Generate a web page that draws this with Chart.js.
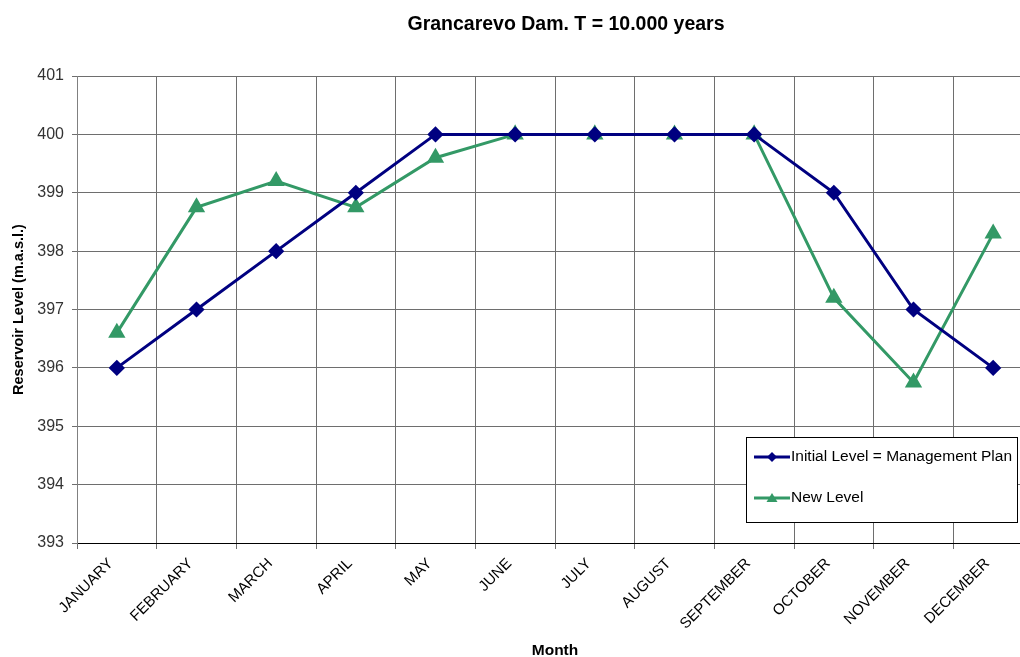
<!DOCTYPE html>
<html>
<head>
<meta charset="utf-8">
<script src="https://cdn.jsdelivr.net/npm/chart.js@4/dist/chart.umd.min.js"></script>
<style>
  html, body { margin: 0; padding: 0; background: #fff; overflow: hidden; width: 1020px; height: 657px; }
  #wrap { position: relative; width: 1050px; height: 660px; }
</style>
</head>
<body>
<div id="wrap"><canvas id="c" width="1050" height="660"></canvas></div>
<script>
const months = ['JANUARY','FEBRUARY','MARCH','APRIL','MAY','JUNE','JULY','AUGUST','SEPTEMBER','OCTOBER','NOVEMBER','DECEMBER'];
const initialLevel = [396, 397, 398, 399, 400, 400, 400, 400, 400, 399, 397, 396];
const newLevel = [396.6, 398.75, 399.2, 398.75, 399.6, 400, 400, 400, 400, 397.2, 395.75, 398.3];
const yTicks = [393, 394, 395, 396, 397, 398, 399, 400, 401];
const chartTitle = 'Grancarevo Dam. T = 10.000 years';

const FONT = 'Arial, "Liberation Sans", sans-serif';

const titlePlugin = {
  id: 'excelTitle',
  afterDraw(chart) {
    const ctx = chart.ctx;
    ctx.save();
    ctx.font = 'bold 19.5px ' + FONT;
    ctx.fillStyle = '#000';
    ctx.textAlign = 'center';
    ctx.textBaseline = 'middle';
    ctx.fillText(chartTitle, 566, 25);
    ctx.restore();
  }
};

const legendPlugin = {
  id: 'boxLegend',
  afterDraw(chart) {
    const ctx = chart.ctx;
    const x0 = 746, y0 = 437, w = 271, h = 85;
    ctx.save();
    ctx.fillStyle = '#fff';
    ctx.fillRect(x0, y0, w, h);
    ctx.strokeStyle = '#000';
    ctx.lineWidth = 1;
    ctx.strokeRect(x0 + 0.5, y0 + 0.5, w, h);
    const rows = [457, 498];
    chart.data.datasets.forEach((ds, i) => {
      const y = rows[i];
      ctx.strokeStyle = ds.borderColor;
      ctx.fillStyle = ds.borderColor;
      ctx.lineWidth = 3;
      ctx.beginPath();
      ctx.moveTo(754, y);
      ctx.lineTo(790, y);
      ctx.stroke();
      const cx = 772;
      ctx.beginPath();
      if (ds.pointStyle === 'rectRot') {
        ctx.moveTo(cx, y - 5); ctx.lineTo(cx + 5, y); ctx.lineTo(cx, y + 5); ctx.lineTo(cx - 5, y);
      } else {
        ctx.moveTo(cx, y - 5); ctx.lineTo(cx + 5.5, y + 4); ctx.lineTo(cx - 5.5, y + 4);
      }
      ctx.closePath();
      ctx.fill();
      ctx.fillStyle = '#000';
      ctx.font = '15.5px ' + FONT;
      ctx.textAlign = 'left';
      ctx.textBaseline = 'middle';
      ctx.fillText(ds.label, 791, y);
    });
    ctx.restore();
  }
};

new Chart(document.getElementById('c'), {
  type: 'line',
  data: {
    labels: months,
    datasets: [
      {
        label: 'Initial Level = Management Plan',
        data: initialLevel,
        borderColor: '#000080',
        backgroundColor: '#000080',
        borderWidth: 3,
        pointStyle: 'rectRot',
        pointRadius: 6,
        pointHoverRadius: 6,
        tension: 0,
        fill: false
      },
      {
        label: 'New Level',
        data: newLevel,
        borderColor: '#339966',
        backgroundColor: '#339966',
        borderWidth: 3,
        pointStyle: 'triangle',
        pointRadius: 7,
        pointHoverRadius: 7,
        tension: 0,
        fill: false
      }
    ]
  },
  options: {
    responsive: false,
    animation: false,
    events: [],
    layout: { padding: { top: 76, right: 17, left: 0, bottom: 0 } },
    plugins: {
      legend: { display: false },
      title: { display: false },
      tooltip: { enabled: false }
    },
    scales: {
      x: {
        type: 'category',
        offset: true,
        grid: { offset: true, color: '#6e6e6e', lineWidth: 1, tickLength: 6, drawTicks: true },
        border: { color: '#000', width: 1 },
        ticks: {
          maxRotation: 45, minRotation: 45, autoSkip: false,
          color: '#000', padding: 0,
          font: { family: FONT, size: 15 },
          callback(value) { return this.getLabelForValue(value) + '  '; }
        },
        title: {
          display: true, text: 'Month', color: '#000',
          font: { family: FONT, size: 15.5, weight: 'bold' },
          padding: { top: 0, bottom: 0 }
        },
        afterFit(scale) { scale.height = 117; }
      },
      y: {
        min: 393, max: 401,
        afterBuildTicks(scale) { scale.ticks = yTicks.map(v => ({ value: v })); },
        grid: { color: '#6e6e6e', lineWidth: 1, tickLength: 5 },
        border: { color: '#808080', width: 1 },
        ticks: {
          color: '#333', padding: 8,
          font: { family: FONT, size: 16 }
        },
        title: {
          display: true, text: 'Reservoir Level (m.a.s.l.)', color: '#000',
          font: { family: FONT, size: 14.5, weight: 'bold' },
          padding: { top: 10, bottom: 0 }
        },
        afterFit(scale) { scale.width = 77; }
      }
    }
  },
  plugins: [titlePlugin, legendPlugin]
});
</script>
</body>
</html>
